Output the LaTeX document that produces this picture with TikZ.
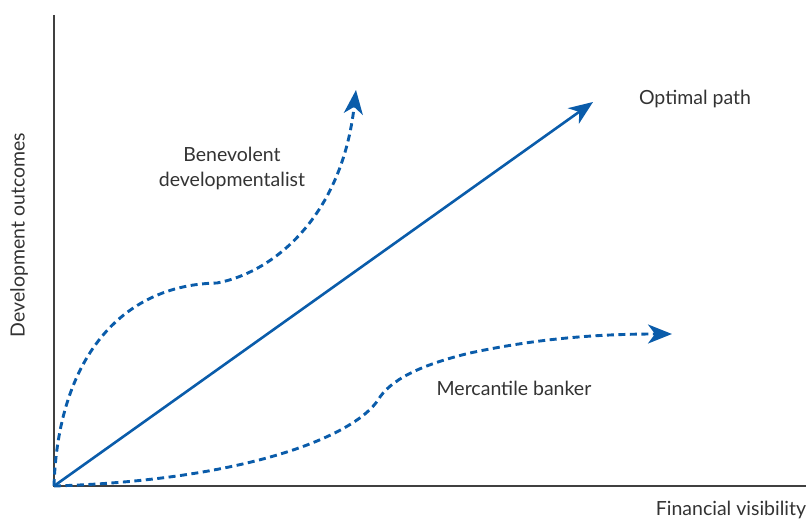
\documentclass[tikz,border=0pt]{standalone}
\usepackage{fontspec}
\setmainfont{Lato}
\usetikzlibrary{arrows.meta}
\definecolor{pathblue}{HTML}{0A5CAA}
\definecolor{labelgray}{HTML}{333333}
\begin{document}
\begin{tikzpicture}[x=1pt,y=1pt,
		axis/.style={line width=1.4pt,black!75},
		route/.style={pathblue,line width=2.6pt,-{Stealth[length=24pt,width=19pt,inset=7pt]}},
		lane/.style={route,line width=2.9pt,dash pattern=on 7pt off 4.5pt},
		tag/.style={labelgray,font=\fontsize{19.5}{25}\selectfont,align=center}]
	      		\useasboundingbox (0,0) rectangle (809,520);
	      		\coordinate (O) at (54,34);
	      		\coordinate (ytop) at (54,505);
	      		\coordinate (xend) at (806,34);
	      		\coordinate (opt) at (593,418);
	      		\coordinate (bflat) at (217,237);
	      		\coordinate (btip) at (356,430);
	      		\coordinate (mbend) at (378,120);
	      		\coordinate (mflat) at (470,167);
	      		\coordinate (mtip) at (672,186);
	      		\draw[axis] (ytop) -- (O) -- (xend);
	      		\draw[route] (O) -- (opt);
	      		\draw[lane] (O) .. controls (58,160) and (120,235) .. (bflat)
	      			.. controls (275,248) and (342,305) .. (btip);
	      		\draw[lane] (O) .. controls (250,40) and (355,85) .. (mbend)
	      			.. controls (390,140) and (420,155) .. (mflat)
	      			.. controls (540,182) and (600,186) .. (mtip);
	      		\node[tag] (optlabel) at (695,421) {Optimal path};
	      		\node[tag] (benlabel) at (232,352) {Benevolent\\developmentalist};
	      		\node[tag] (merlabel) at (514,132) {Mercantile banker};
	      		\node[tag,rotate=90] (ylabel) at (19,285) {Development outcomes};
	      		\node[tag] (xlabel) at (731,10) {Financial visibility};
	      	\end{tikzpicture}
\end{document}
